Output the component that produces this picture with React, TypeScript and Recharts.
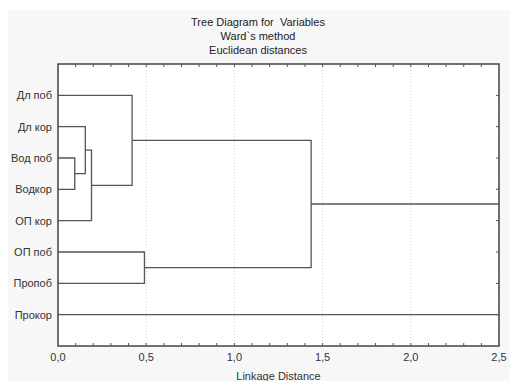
import React from "react";
import {
  LineChart,
  Line,
  XAxis,
  YAxis,
  CartesianGrid,
  ReferenceArea,
  ReferenceLine,
} from "recharts";

// variables (leaves), top to bottom
const leaves = [
  "Дл поб",
  "Дл кор",
  "Вод поб",
  "Водкор",
  "ОП кор",
  "ОП поб",
  "Пропоб",
  "Прокор",
];

// Ward merges: node ids 0..7 are leaves, 8.. are clusters in merge order
const mergeLeft = [2, 1, 9, 0, 5, 11, 13];
const mergeRight = [3, 8, 4, 10, 6, 12, 7];
const mergeHeight = [0.095, 0.155, 0.19, 0.42, 0.49, 1.435, 2.7];

const xTicks = [0, 0.5, 1, 1.5, 2, 2.5];
const minorTicks = Array.from({ length: 24 }, (_, i) => (i + 1) / 10);
const rowTicks = leaves.map((_, i) => i + 1);

const X_MAX = 2.5;
const Y_MAX = 9;
const PLOT_W = 441;
const PLOT_H = 282;
const TICK_PX = 3;
// tick length expressed in axis units
const tickX = (TICK_PX * X_MAX) / PLOT_W;
const tickY = (TICK_PX * Y_MAX) / PLOT_H;

const font = '"Liberation Sans", Arial, sans-serif';
const lineColor = "#555";

// build the U-shaped links of the dendrogram from the merge table
const pos: number[] = leaves.map((_, i) => i + 1);
const height: number[] = leaves.map(() => 0);
const links = mergeHeight.map((h, k) => {
  const a = mergeLeft[k];
  const b = mergeRight[k];
  pos.push((pos[a] + pos[b]) / 2);
  height.push(h);
  return [
    { x: height[a], y: pos[a] },
    { x: h, y: pos[a] },
    { x: h, y: pos[b] },
    { x: height[b], y: pos[b] },
  ];
});

const fmt = (v: number) => v.toFixed(1).replace(".", ",");

export default function App() {
  return (
    <div
      style={{
        position: "absolute",
        left: 0,
        top: 0,
        width: 510,
        height: 381,
        background: "#fff",
        fontFamily: font,
        overflow: "hidden",
      }}
    >
      <div
        style={{
          position: "absolute",
          left: 8,
          top: 10,
          right: 0,
          bottom: 0,
          background: "#f7f7f7",
        }}
      />
      <div
        style={{
          position: "absolute",
          left: 0,
          top: 15,
          width: 516,
          textAlign: "center",
          fontSize: 11,
          lineHeight: "14px",
          color: "#222",
        }}
      >
        <div>Tree Diagram for&nbsp; Variables</div>
        <div>Ward`s method</div>
        <div>Euclidean distances</div>
      </div>
      <div style={{ position: "absolute", left: 0, top: 0 }}>
        <LineChart
          width={510}
          height={381}
          margin={{ top: 64, right: 11, bottom: 0, left: 0 }}
        >
          <CartesianGrid
            horizontal={false}
            stroke="#cfcfcf"
            strokeDasharray="1 2"
            fill="#fff"
          />
          <XAxis
            dataKey="x"
            type="number"
            domain={[0, X_MAX]}
            allowDataOverflow
            ticks={xTicks}
            tickFormatter={fmt}
            height={35}
            tickLine={false}
            axisLine={false}
            tickSize={0}
            tickMargin={7}
            tick={{ fill: "#333", fontSize: 11, fontFamily: font }}
            label={{
              value: "Linkage Distance",
              position: "insideBottom",
              offset: 1,
              fill: "#333",
              fontSize: 11,
              fontFamily: font,
            }}
          />
          <YAxis
            type="number"
            domain={[0, Y_MAX]}
            reversed
            allowDataOverflow
            ticks={rowTicks}
            tickFormatter={(v: number) => leaves[v - 1] ?? ""}
            width={58}
            tickLine={false}
            axisLine={false}
            tickSize={0}
            tickMargin={6}
            tick={{ fill: "#333", fontSize: 11, fontFamily: font }}
          />
          {/* inward tick marks on bottom, top and right frame */}
          {minorTicks.map((t) => (
            <ReferenceLine
              key={`b${t}`}
              segment={[
                { x: t, y: Y_MAX },
                { x: t, y: Y_MAX - tickY },
              ]}
              stroke="#555"
            />
          ))}
          {minorTicks.map((t) => (
            <ReferenceLine
              key={`t${t}`}
              segment={[
                { x: t, y: 0 },
                { x: t, y: tickY },
              ]}
              stroke="#555"
            />
          ))}
          {rowTicks.map((t) => (
            <ReferenceLine
              key={`r${t}`}
              segment={[
                { x: X_MAX, y: t },
                { x: X_MAX - tickX, y: t },
              ]}
              stroke="#555"
            />
          ))}
          {links.map((d, i) => (
            <Line
              key={i}
              data={d}
              dataKey="y"
              type="linear"
              stroke={lineColor}
              strokeWidth={1.3}
              dot={false}
              activeDot={false}
              isAnimationActive={false}
            />
          ))}
          <ReferenceArea
            x1={0}
            x2={X_MAX}
            y1={0}
            y2={Y_MAX}
            fill="none"
            stroke="#444"
            strokeWidth={1.5}
            fillOpacity={0}
          />
        </LineChart>
      </div>
    </div>
  );
}
